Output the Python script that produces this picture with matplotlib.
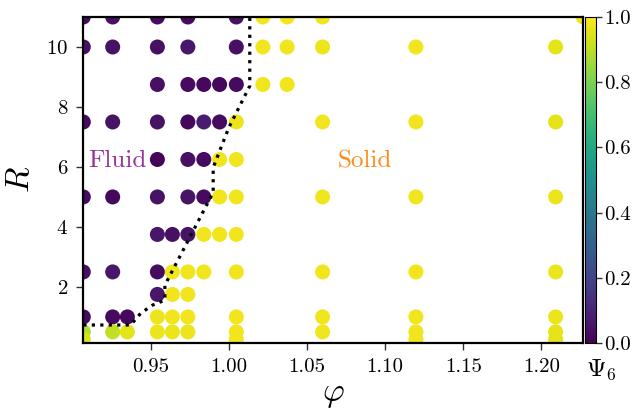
import matplotlib
matplotlib.use("Agg")
import matplotlib.pyplot as plt

plt.rcParams['font.family'] = 'cmr10'
plt.rcParams['mathtext.fontset'] = 'cm'
plt.rcParams['axes.formatter.use_mathtext'] = True

# packing fraction columns
c = [0.9069, 0.9257, 0.9351, 0.9543, 0.9639, 0.9738, 0.9840, 0.9941,
     1.0048, 1.0218, 1.0373, 1.0600, 1.1197, 1.2091, 1.2268]

# (column index, R, Psi6) for every simulation point
pts = [
    (0, 11, 0.03), (1, 11, 0.04), (3, 11, 0.03), (5, 11, 0.03), (8, 11, 0.04),
    (9, 11, 0.98), (10, 11, 0.98), (11, 11, 0.98), (14, 11, 0.97),
    (0, 10, 0.04), (1, 10, 0.05), (3, 10, 0.04), (5, 10, 0.06), (8, 10, 0.04),
    (9, 10, 0.98), (10, 10, 0.98), (11, 10, 0.97), (12, 10, 0.98), (13, 10, 0.96),
    (3, 8.75, 0.04), (5, 8.75, 0.03), (6, 8.75, 0.02), (7, 8.75, 0.02), (8, 8.75, 0.03),
    (9, 8.75, 0.98), (10, 8.75, 0.98),
    (0, 7.5, 0.03), (1, 7.5, 0.05), (3, 7.5, 0.05), (5, 7.5, 0.02), (6, 7.5, 0.08),
    (7, 7.5, 0.03), (8, 7.5, 0.97), (11, 7.5, 0.98), (12, 7.5, 0.98), (13, 7.5, 0.96),
    (3, 6.25, 0.01), (5, 6.25, 0.04), (6, 6.25, 0.03), (7, 6.25, 0.98), (8, 6.25, 0.98),
    (0, 5, 0.03), (1, 5, 0.02), (3, 5, 0.05), (5, 5, 0.05), (6, 5, 0.03),
    (7, 5, 0.98), (8, 5, 0.98), (11, 5, 0.98), (12, 5, 0.98), (13, 5, 0.97),
    (3, 3.75, 0.06), (4, 3.75, 0.04), (5, 3.75, 0.05), (6, 3.75, 0.98),
    (7, 3.75, 0.98), (8, 3.75, 0.98),
    (0, 2.5, 0.04), (1, 2.5, 0.06), (3, 2.5, 0.03), (4, 2.5, 0.98), (5, 2.5, 0.98),
    (6, 2.5, 0.98), (8, 2.5, 0.98), (11, 2.5, 0.98), (12, 2.5, 0.98), (13, 2.5, 0.97),
    (3, 1.75, 0.06), (4, 1.75, 0.98), (5, 1.75, 0.98),
    (0, 1.0, 0.03), (1, 1.0, 0.03), (2, 1.0, 0.02), (3, 1.0, 0.97), (4, 1.0, 0.98),
    (5, 1.0, 0.98), (8, 1.0, 0.98), (11, 1.0, 0.98), (12, 1.0, 0.98), (13, 1.0, 0.97),
    (0, 0.5, 0.88), (1, 0.5, 0.91), (2, 0.5, 0.96), (3, 0.5, 0.97), (4, 0.5, 0.97),
    (5, 0.5, 0.97), (8, 0.5, 0.98), (11, 0.5, 0.98), (12, 0.5, 0.98), (13, 0.5, 0.96),
    (0, 0.25, 0.94), (8, 0.25, 0.98), (12, 0.25, 0.98), (13, 0.25, 0.96),
]
phi = [c[i] for i, r, p in pts]
R = [r for i, r, p in pts]
psi6 = [p for i, r, p in pts]

# fluid/solid boundary
bound_phi = [0.9069, 0.9372, 0.9436, 0.9511, 0.9591, 0.9591, 0.9900, 0.9900, 0.9999, 1.0134, 1.0134]
bound_R = [0.73, 0.73, 1.12, 1.39, 1.56, 2.06, 5.15, 5.98, 7.3, 8.70, 11.5]

fig = plt.figure(figsize=(6.37, 4.18), dpi=100)
ax = fig.add_axes([83.3 / 637, (418 - 342.7) / 418, 500 / 637, 325.7 / 418])
cax = fig.add_axes([585 / 637, (418 - 343) / 418, 11 / 637, 326 / 418])

sc = ax.scatter(phi, R, c=psi6, cmap='viridis', vmin=0, vmax=1, s=117,
                linewidths=0, zorder=2)
ax.plot(bound_phi, bound_R, ':', color='black', lw=2.3, zorder=3)

ax.text(0.9284, 6.2, 'Fluid', color='#993399', fontsize=18, ha='center', va='center')
ax.text(1.0871, 6.2, 'Solid', color='#ff8c1a', fontsize=18, ha='center', va='center')

ax.set_xlim(0.9069, 1.2268)
ax.set_ylim(0.14, 11)
ax.set_xticks([0.95, 1.00, 1.05, 1.10, 1.15, 1.20])
ax.set_xticklabels(['0.95', '1.00', '1.05', '1.10', '1.15', '1.20'])
ax.set_yticks([2, 4, 6, 8, 10])
ax.tick_params(direction='out', length=5, width=1, color='#333333', labelsize=15, pad=6)
for sp in ax.spines.values():
    sp.set_linewidth(1.6)
ax.set_xlabel(r'$\varphi$', fontsize=24, labelpad=4)
ax.set_ylabel(r'$R$', fontsize=24, labelpad=8)

cb = fig.colorbar(sc, cax=cax)
cb.set_ticks([0.0, 0.2, 0.4, 0.6, 0.8, 1.0])
cb.set_ticklabels(['0.0', '0.2', '0.4', '0.6', '0.8', '1.0'])
cax.tick_params(direction='out', length=4, width=1, color='#333333', labelsize=15, pad=2)
cb.outline.set_linewidth(0.8)
fig.text(601 / 637, 1 - 370 / 418, r'$\Psi_6$', fontsize=18, ha='center', va='center')

fig.savefig('out.png', dpi=100)
